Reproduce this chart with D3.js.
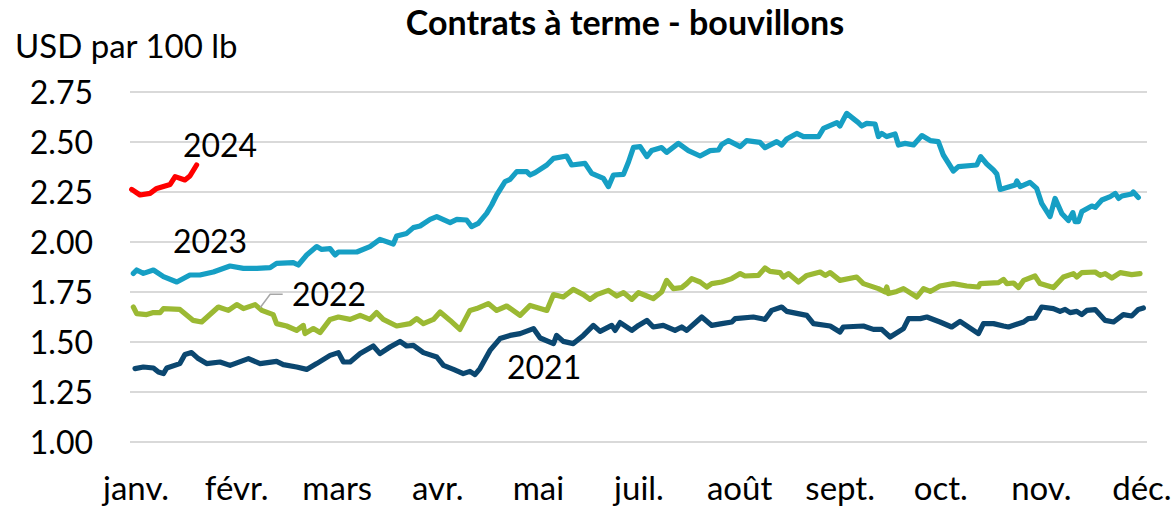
<!DOCTYPE html>
<html>
<head>
<meta charset="utf-8">
<script src="https://cdn.jsdelivr.net/npm/d3@7"></script>
<style>
  body { margin: 0; background: #fff; }
  text { font-family: Lato, "Open Sans", sans-serif; fill: #000; }
</style>
</head>
<body>
<div id="chart"></div>
<script>
// month labels on the x axis (juin is not shown in the source)
var months = ["janv.", "févr.", "mars", "avr.", "mai", "juil.", "août", "sept.", "oct.", "nov.", "déc."];
var yTicks = [1.00, 1.25, 1.50, 1.75, 2.00, 2.25, 2.50, 2.75];

// [day of year, USD par 100 lb]
var s2021 = [[1.8,1.367],[4.8,1.375],[8.4,1.37],[10.2,1.35],[12.0,1.342],[13.2,1.37],[17.9,1.392],[19.7,1.437],[22.1,1.447],[24.5,1.417],[27.5,1.392],[32.3,1.40],[35.9,1.383],[42.5,1.417],[46.7,1.392],[52.6,1.403],[55.0,1.387],[59.8,1.375],[63.4,1.363],[67.0,1.392],[71.8,1.433],[74.8,1.447],[76.6,1.40],[79.0,1.40],[82.6,1.442],[87.3,1.48],[89.7,1.442],[93.3,1.475],[96.9,1.503],[99.3,1.48],[101.7,1.483],[105.3,1.447],[110.1,1.425],[112.5,1.383],[116.1,1.363],[119.6,1.342],[122.0,1.353],[123.8,1.337],[125.6,1.367],[129.2,1.458],[132.8,1.517],[136.4,1.533],[140.0,1.542],[144.8,1.567],[147.2,1.52],[152.0,1.492],[153.1,1.533],[155.5,1.503],[159.1,1.492],[162.7,1.533],[166.3,1.583],[168.7,1.553],[172.9,1.583],[174.1,1.558],[175.9,1.597],[180.1,1.558],[182.5,1.583],[185.5,1.608],[187.8,1.575],[191.4,1.583],[195.6,1.558],[198.0,1.575],[199.8,1.558],[205.2,1.625],[208.8,1.583],[212.4,1.592],[216.0,1.60],[217.2,1.617],[223.7,1.625],[227.9,1.613],[230.3,1.658],[233.9,1.675],[235.7,1.653],[242.9,1.633],[245.3,1.592],[251.3,1.58],[254.8,1.55],[256.0,1.575],[263.2,1.58],[266.8,1.563],[269.8,1.563],[272.8,1.525],[277.6,1.567],[279.4,1.617],[283.6,1.617],[286.0,1.625],[290.7,1.60],[294.9,1.575],[297.9,1.603],[304.5,1.542],[306.3,1.592],[309.9,1.592],[313.5,1.58],[315.3,1.575],[320.7,1.60],[322.4,1.617],[324.8,1.62],[327.2,1.675],[331.4,1.667],[333.8,1.653],[335.6,1.663],[337.4,1.647],[339.8,1.653],[341.6,1.637],[343.4,1.658],[346.4,1.662],[350.0,1.608],[353.0,1.60],[356.5,1.637],[359.5,1.63],[361.9,1.663],[363.7,1.67]];

var s2022 = [[1.2,1.675],[2.4,1.642],[6.0,1.637],[8.4,1.647],[10.8,1.647],[12.0,1.667],[17.9,1.663],[22.7,1.608],[25.7,1.60],[31.7,1.675],[35.3,1.658],[38.3,1.687],[40.7,1.667],[44.9,1.687],[47.3,1.658],[51.4,1.637],[52.6,1.592],[56.2,1.58],[59.8,1.558],[62.2,1.583],[62.8,1.542],[65.8,1.567],[68.2,1.547],[71.8,1.613],[74.8,1.625],[79.0,1.613],[82.6,1.633],[86.1,1.613],[88.5,1.647],[90.9,1.613],[95.7,1.58],[100.5,1.592],[102.9,1.617],[105.3,1.592],[108.9,1.613],[111.3,1.65],[114.9,1.608],[118.4,1.563],[122.0,1.658],[124.4,1.667],[128.6,1.692],[131.6,1.658],[135.2,1.68],[140.0,1.633],[143.6,1.683],[149.6,1.658],[152.0,1.737],[155.5,1.725],[159.1,1.763],[162.7,1.737],[165.1,1.713],[167.5,1.737],[171.7,1.758],[174.7,1.73],[177.1,1.747],[180.1,1.713],[182.5,1.747],[185.5,1.73],[187.8,1.717],[190.8,1.75],[192.6,1.808],[195.0,1.767],[198.0,1.772],[199.8,1.792],[201.6,1.817],[204.6,1.80],[207.0,1.775],[208.8,1.792],[212.4,1.80],[216.0,1.817],[219.0,1.842],[220.7,1.83],[225.5,1.833],[227.9,1.87],[229.7,1.853],[233.3,1.847],[234.5,1.825],[236.3,1.842],[239.9,1.80],[242.9,1.833],[247.7,1.85],[249.5,1.833],[251.3,1.847],[254.8,1.808],[260.8,1.825],[263.2,1.792],[268.6,1.767],[271.0,1.75],[271.6,1.775],[272.2,1.742],[275.2,1.753],[277.6,1.767],[282.4,1.725],[284.8,1.767],[287.2,1.753],[290.7,1.78],[295.5,1.792],[300.3,1.78],[304.5,1.775],[305.1,1.792],[311.7,1.797],[313.5,1.813],[314.7,1.792],[317.1,1.795],[318.9,1.772],[320.7,1.808],[324.8,1.83],[326.6,1.792],[331.4,1.772],[335.0,1.825],[338.6,1.842],[339.8,1.825],[341.6,1.847],[346.4,1.85],[348.2,1.833],[350.0,1.842],[352.4,1.82],[355.4,1.847],[359.5,1.837],[362.5,1.842]];

var s2023 = [[1.2,1.843],[2.4,1.86],[4.8,1.843],[8.4,1.86],[12.0,1.827],[16.8,1.80],[21.5,1.835],[25.1,1.835],[29.9,1.85],[35.9,1.88],[40.7,1.868],[45.5,1.868],[50.3,1.872],[52.6,1.893],[58.6,1.897],[60.4,1.885],[63.4,1.935],[67.0,1.977],[68.8,1.963],[71.8,1.967],[73.6,1.935],[74.8,1.95],[81.4,1.95],[86.1,1.977],[89.7,2.013],[94.5,1.99],[95.7,2.03],[99.3,2.043],[101.7,2.072],[104.1,2.08],[107.7,2.113],[110.1,2.127],[114.9,2.097],[117.3,2.113],[120.8,2.11],[122.6,2.077],[125.0,2.093],[128.0,2.143],[129.8,2.185],[131.6,2.235],[134.6,2.302],[136.4,2.313],[138.8,2.352],[142.4,2.352],[143.6,2.335],[145.4,2.347],[149.6,2.385],[152.0,2.418],[156.7,2.43],[158.5,2.385],[163.3,2.393],[165.7,2.343],[169.9,2.318],[171.7,2.277],[173.5,2.335],[177.1,2.338],[178.9,2.40],[180.7,2.473],[183.1,2.477],[185.5,2.427],[187.2,2.457],[190.8,2.472],[192.6,2.448],[196.8,2.493],[200.4,2.457],[204.6,2.43],[208.2,2.457],[211.2,2.46],[212.4,2.488],[214.8,2.507],[219.0,2.477],[221.3,2.507],[226.1,2.498],[227.9,2.472],[232.1,2.502],[233.9,2.485],[235.7,2.515],[239.3,2.543],[241.7,2.527],[247.1,2.527],[248.9,2.568],[253.7,2.597],[254.8,2.58],[257.2,2.643],[261.4,2.597],[262.6,2.58],[264.4,2.593],[267.4,2.59],[268.6,2.527],[269.8,2.543],[271.6,2.527],[274.6,2.54],[275.8,2.485],[278.2,2.493],[281.2,2.485],[284.2,2.532],[287.2,2.507],[290.1,2.502],[291.9,2.435],[295.5,2.355],[297.3,2.377],[303.9,2.385],[305.3,2.427],[307.5,2.39],[309.9,2.36],[311.1,2.34],[312.3,2.263],[317.7,2.285],[318.3,2.305],[319.5,2.277],[323.0,2.298],[325.4,2.268],[327.2,2.193],[330.2,2.127],[332.0,2.218],[334.4,2.143],[336.8,2.107],[338.4,2.147],[339.2,2.102],[340.4,2.102],[341.6,2.152],[345.2,2.18],[346.4,2.173],[348.8,2.21],[351.8,2.227],[353.6,2.243],[354.8,2.218],[356.0,2.23],[359.5,2.24],[360.1,2.25],[361.9,2.223]];

var s2024 = [[0.6,2.263],[3.6,2.235],[7.2,2.243],[9.6,2.268],[14.4,2.288],[16.2,2.327],[19.7,2.31],[21.5,2.33],[23.9,2.385]];

var seriesNames = ["2021", "2022", "2023", "2024"];
var seriesColors = ["#0b4770", "#9bb933", "#169fc4", "#ff0000"];

// layout
var W = 1176, H = 511;
var margin = {top: 92, right: 29, bottom: 69, left: 130};
var width = W - margin.left - margin.right,
    height = H - margin.top - margin.bottom;

var svg = d3.select("#chart").append("svg")
  .attr("width", W)
  .attr("height", H);

var g = svg.append("g")
  .attr("transform", "translate(" + margin.left + "," + margin.top + ")");

var x = d3.scaleLinear().domain([0, 365]).range([0, width]);
var y = d3.scaleLinear().domain([1, 2.75]).range([height, 0]);

// gridlines
g.selectAll(".grid")
  .data(yTicks)
  .join("line")
    .attr("class", "grid")
    .attr("x1", 0).attr("x2", width)
    .attr("y1", function(d) { return y(d); })
    .attr("y2", function(d) { return y(d); })
    .style("stroke", "#d9d9d9")
    .style("stroke-width", 2);

// y axis labels
var yAxis = g.append("g")
  .attr("transform", "translate(-37,0)")
  .call(d3.axisLeft(y).tickValues(yTicks).tickFormat(d3.format(".2f")).tickSize(0));
yAxis.select(".domain").remove();
yAxis.selectAll("text")
  .style("font-family", "Lato, sans-serif")
  .style("font-size", "32px")
  .attr("dy", "0.36em")
  .attr("x", 0);

// x axis: month labels spread evenly
var xm = d3.scalePoint().domain(months).range([x(2), x(363)]);
var xAxis = g.append("g")
  .attr("transform", "translate(0," + height + ")")
  .call(d3.axisBottom(xm).tickSize(0));
xAxis.select(".domain").remove();
xAxis.selectAll("text")
  .style("font-family", "Lato, sans-serif")
  .style("font-size", "33px")
  .attr("y", 58)
  .attr("dy", 0);

// lines
var line = d3.line()
  .x(function(d) { return x(d[0]); })
  .y(function(d) { return y(d[1]); });

var allSeries = [s2021, s2022, s2023, s2024];
g.selectAll(".serie")
  .data(allSeries)
  .join("path")
    .attr("class", "serie")
    .attr("d", line)
    .style("fill", "none")
    .style("stroke", function(d, i) { return seriesColors[i]; })
    .style("stroke-width", 5.2)
    .style("stroke-linejoin", "round")
    .style("stroke-linecap", "round");

// series labels (anchor in data units)
var labelAt = [[135.3, 1.315], [58.1, 1.68], [15.4, 1.945], [19.0, 2.425]];
g.selectAll(".lbl")
  .data(seriesNames)
  .join("text")
    .attr("class", "lbl")
    .attr("x", function(d, i) { return x(labelAt[i][0]); })
    .attr("y", function(d, i) { return y(labelAt[i][1]); })
    .style("font-size", "32px")
    .text(function(d) { return d; });

// leader line for 2022
var leader = [[46.7, 1.671], [50.3, 1.7385], [54.8, 1.7385]];
g.append("path")
  .attr("d", line(leader))
  .style("fill", "none")
  .style("stroke", "#a6a6a6")
  .style("stroke-width", 1.5);

// title and unit
svg.append("text")
  .attr("x", 625)
  .attr("y", 35)
  .attr("text-anchor", "middle")
  .style("font-size", "34px")
  .style("font-weight", "bold")
  .text("Contrats à terme - bouvillons");

svg.append("text")
  .attr("x", 15)
  .attr("y", 58)
  .style("font-size", "33px")
  .text("USD par 100 lb");
</script>
</body>
</html>
